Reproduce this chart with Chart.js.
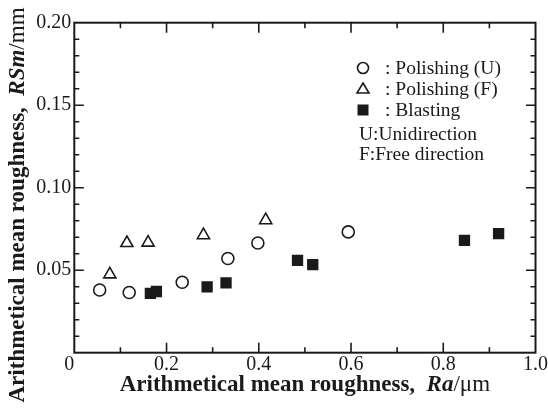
<!DOCTYPE html>
<html>
<head>
<meta charset="utf-8">
<script src="https://cdn.jsdelivr.net/npm/chart.js@4/dist/chart.umd.min.js"></script>
<style>
  body { margin: 0; background: #fff; }
  canvas { display: block; }
</style>
</head>
<body>
<canvas id="roughChart" width="548" height="410"></canvas>
<script>
// Ra (um) vs RSm (mm)
const polishU_ra  = [0.055, 0.119, 0.234, 0.333, 0.398, 0.594];
const polishU_rsm = [0.0380, 0.0365, 0.0427, 0.0571, 0.0665, 0.0732];
const polishF_ra  = [0.077, 0.114, 0.160, 0.280, 0.415];
const polishF_rsm = [0.0475, 0.0665, 0.0667, 0.0712, 0.0803];
const blast_ra    = [0.165, 0.178, 0.288, 0.329, 0.484, 0.517, 0.846, 0.920];
const blast_rsm   = [0.0359, 0.0371, 0.0399, 0.0423, 0.0560, 0.0534, 0.0681, 0.0722];

const seriesNames = [': Polishing (U)', ': Polishing (F)', ': Blasting'];
const noteLines = ['U:Unidirection', 'F:Free direction'];

const xTitle = ['Arithmetical mean roughness,  ', 'Ra', '/\u03bcm'];
const yTitle = ['Arithmetical mean roughness,  ', 'RSm', '/mm'];

const ink = '#1a1a1a';
const serif = '"Liberation Serif", "Times New Roman", serif';

function pts(xs, ys) {
    return xs.map((x, i) => ({ x: x, y: ys[i] }));
}

// draws a title made of bold / bold italic / normal pieces
function drawPieces(ctx, parts, cx, cy) {
    const fonts = ['bold 23px ' + serif, 'italic bold 23px ' + serif, '23px ' + serif];
    let total = 0;
    const widths = parts.map((p, i) => {
        ctx.font = fonts[i];
        const w = ctx.measureText(p).width;
        total += w;
        return w;
    });
    let x = cx - total / 2;
    parts.forEach((p, i) => {
        ctx.font = fonts[i];
        ctx.fillText(p, x, cy);
        x += widths[i];
    });
}

const framePlugin = {
    id: 'frame',
    afterDraw(chart) {
        const ctx = chart.ctx;
        const a = chart.chartArea;
        const xs = chart.scales.x, ys = chart.scales.y;
        ctx.save();
        ctx.strokeStyle = ink;
        ctx.lineWidth = 2;
        ctx.strokeRect(a.left, a.top, a.right - a.left, a.bottom - a.top);

        ctx.lineWidth = 1.6;
        ctx.beginPath();
        for (let i = 1; i < 10; i++) {
            const px = xs.getPixelForValue(i / 10);
            const len = i % 2 === 0 ? 10 : 5.5;
            ctx.moveTo(px, a.bottom); ctx.lineTo(px, a.bottom - len);
            ctx.moveTo(px, a.top); ctx.lineTo(px, a.top + len);
        }
        for (let j = 1; j < 20; j++) {
            const py = ys.getPixelForValue(j / 100);
            const len = j % 5 === 0 ? 9.5 : 5;
            ctx.moveTo(a.left, py); ctx.lineTo(a.left + len, py);
            ctx.moveTo(a.right, py); ctx.lineTo(a.right - len, py);
        }
        ctx.stroke();

        // axis titles
        ctx.fillStyle = ink;
        ctx.textBaseline = 'middle';
        ctx.textAlign = 'left';
        drawPieces(ctx, xTitle, (a.left + a.right) / 2, 385);
        ctx.save();
        ctx.translate(18, 205);
        ctx.rotate(-Math.PI / 2);
        drawPieces(ctx, yTitle, 0, 0);
        ctx.restore();

        // legend
        const mx = 363, tx = 385;
        const rows = [68, 89, 110];
        ctx.lineWidth = 1.6;
        ctx.beginPath();
        ctx.arc(mx, rows[0], 5.5, 0, Math.PI * 2);
        ctx.stroke();
        ctx.beginPath();
        ctx.moveTo(mx, rows[1] - 6);
        ctx.lineTo(mx + 6, rows[1] + 4);
        ctx.lineTo(mx - 6, rows[1] + 4);
        ctx.closePath();
        ctx.stroke();
        ctx.fillRect(mx - 5.5, rows[2] - 5.5, 11, 11);

        ctx.font = '19.5px ' + serif;
        seriesNames.forEach((s, i) => ctx.fillText(s, tx, rows[i] + 1));
        ctx.fillText(noteLines[0], 359, 135);
        ctx.fillText(noteLines[1], 359, 155);
        ctx.restore();
    }
};

new Chart(document.getElementById('roughChart'), {
    type: 'scatter',
    data: {
        datasets: [{
            label: 'Polishing (U)',
            data: pts(polishU_ra, polishU_rsm),
            pointStyle: 'circle',
            pointRadius: 6,
            borderColor: ink,
            backgroundColor: '#fff',
            borderWidth: 1.6
        }, {
            label: 'Polishing (F)',
            data: pts(polishF_ra, polishF_rsm),
            pointStyle: 'triangle',
            pointRadius: 7,
            borderColor: ink,
            backgroundColor: '#fff',
            borderWidth: 1.6
        }, {
            label: 'Blasting',
            data: pts(blast_ra, blast_rsm),
            pointStyle: 'rect',
            pointRadius: 8,
            borderColor: ink,
            backgroundColor: ink,
            borderWidth: 0
        }]
    },
    options: {
        responsive: false,
        animation: false,
        layout: { padding: { top: 22.7, right: 12.3, left: 0, bottom: 0 } },
        plugins: {
            legend: { display: false },
            tooltip: { enabled: false }
        },
        scales: {
            x: {
                type: 'linear',
                min: 0, max: 1,
                grid: { display: false, drawTicks: false },
                border: { display: false },
                ticks: {
                    stepSize: 0.2,
                    padding: 0,
                    color: ink,
                    font: { family: serif, size: 20 },
                    maxRotation: 0,
                    // the single "0" sits a little left of the corner
                    callback: v => v === 0 ? '0\u2002' : v.toFixed(1)
                },
                afterFit: s => { s.height = 410 - 352.7; }
            },
            y: {
                min: 0, max: 0.2,
                grid: { display: false, drawTicks: false },
                border: { display: false },
                ticks: {
                    stepSize: 0.05,
                    padding: 3,
                    color: ink,
                    font: { family: serif, size: 20 },
                    callback: v => v === 0 ? '' : v.toFixed(2)
                },
                afterFit: s => { s.width = 74.3; }
            }
        }
    },
    plugins: [framePlugin]
});
</script>
</body>
</html>
